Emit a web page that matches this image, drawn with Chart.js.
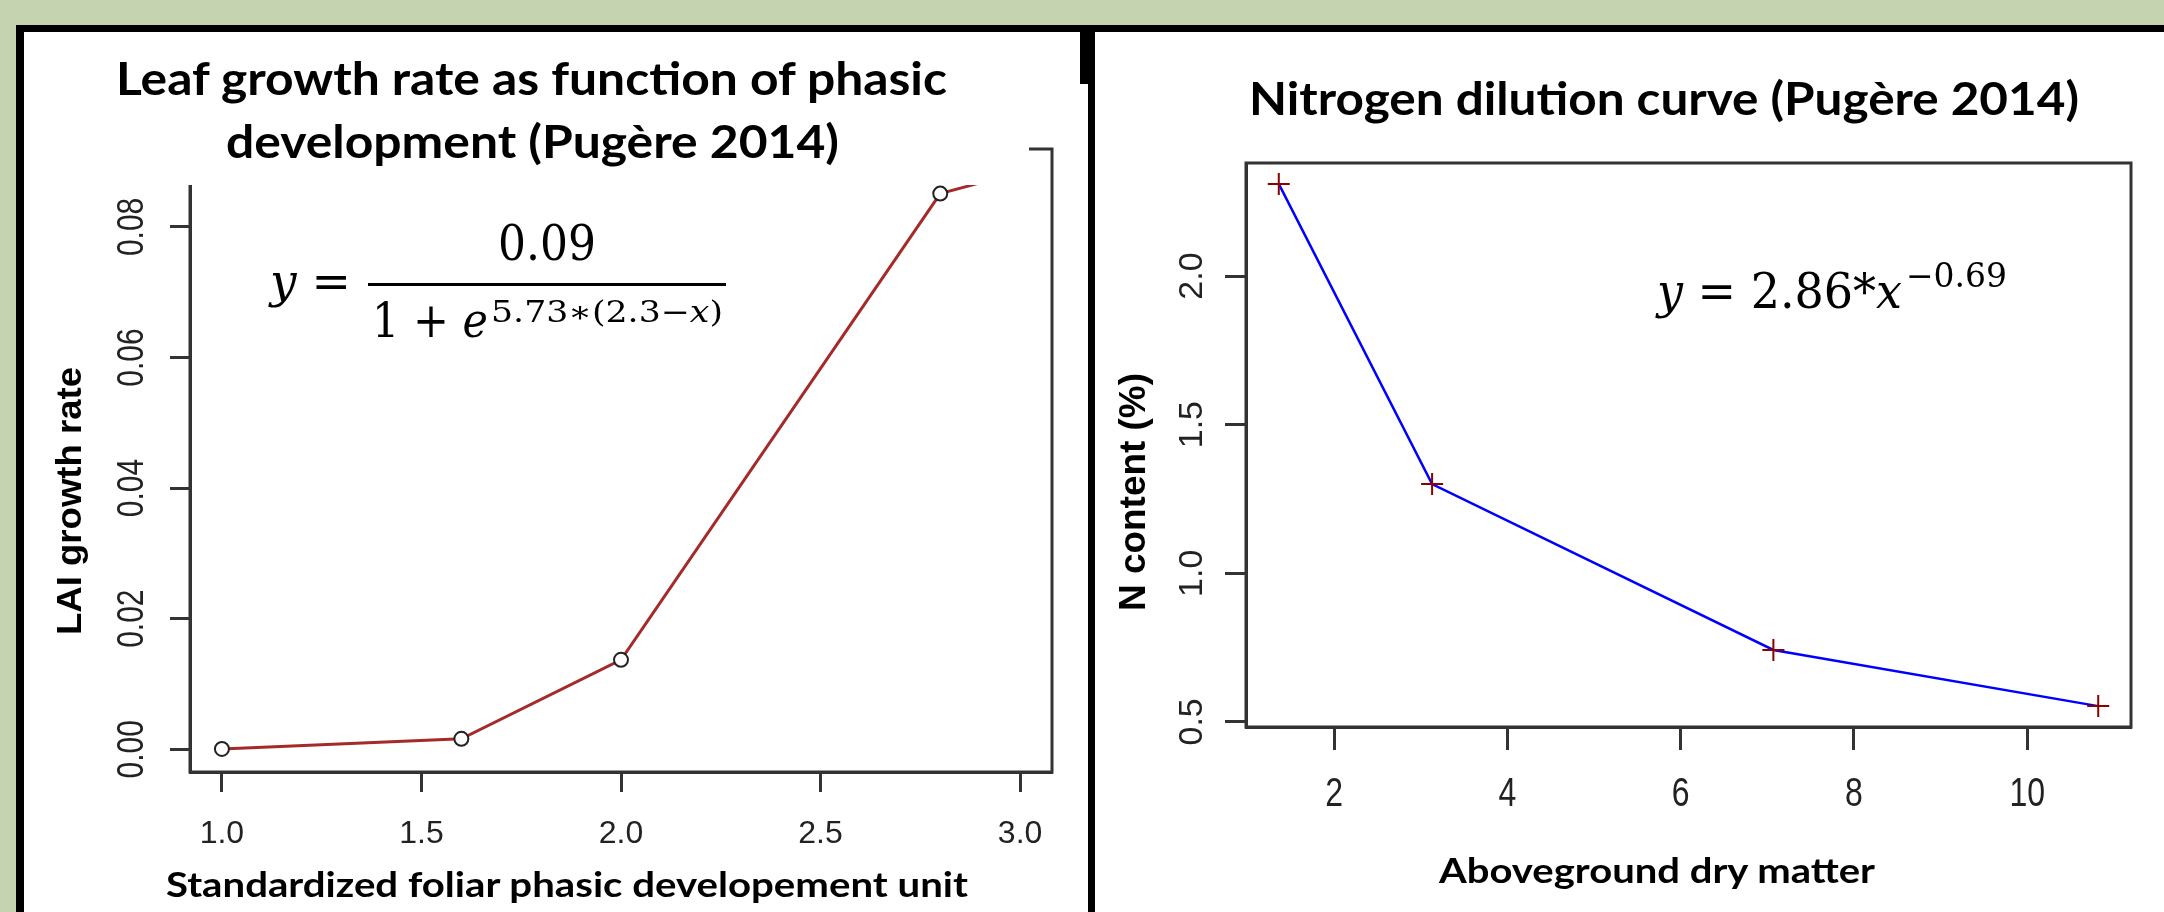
<!DOCTYPE html>
<html>
<head>
<meta charset="utf-8">
<title>Leaf growth rate and nitrogen dilution curve (Pugère 2014)</title>
<script src="https://cdn.jsdelivr.net/npm/chart.js@4.4.1/dist/chart.umd.min.js"></script>
<style>
  html, body { margin: 0; padding: 0; }
  body {
    width: 2164px;
    height: 912px;
    overflow: hidden;
    position: relative;
    background: #c6d3b0;
    font-family: "Liberation Sans", Arial, sans-serif;
  }
  .frame { position: absolute; left: 16px; top: 25px; right: 0; bottom: 0; background: #000; }
  .panel { position: absolute; top: 32px; height: 880px; background: #fff; }
  #panelLeft { left: 24px; width: 1064px; }
  #panelRight { left: 1095px; width: 1069px; }
  .panel canvas { position: absolute; left: 0; top: 0; }
  .edge { position: absolute; left: 1080px; top: 32px; width: 8px; height: 52px; background: #000; }
  #overlay { position: absolute; left: 0; top: 0; pointer-events: none; }
</style>
</head>
<body>
<div class="frame"></div>
<div class="panel" id="panelLeft"><canvas id="leafChart" width="1064" height="880"></canvas></div>
<div class="panel" id="panelRight"><canvas id="nitrogenChart" width="1069" height="880"></canvas></div>
<div class="edge"></div>

<svg id="overlay" width="2164" height="912" xmlns="http://www.w3.org/2000/svg">
  <!-- title box pasted over the top of the left plot -->
  <rect x="24" y="32" width="1005" height="153" fill="#fff"/>

  <g font-family="Lato, 'Open Sans', sans-serif" font-weight="700" fill="#000">
    <text x="116" y="95" font-size="46" textLength="831" lengthAdjust="spacingAndGlyphs">Leaf growth rate as function of phasic</text>
    <text x="226" y="158" font-size="46" textLength="613" lengthAdjust="spacingAndGlyphs">development (Pugère 2014)</text>
    <text x="1249" y="115" font-size="46" textLength="830" lengthAdjust="spacingAndGlyphs">Nitrogen dilution curve (Pugère 2014)</text>
    <text x="166" y="897" font-size="34" textLength="802" lengthAdjust="spacingAndGlyphs">Standardized foliar phasic developement unit</text>
    <text x="1439" y="883" font-size="34" textLength="436" lengthAdjust="spacingAndGlyphs">Aboveground dry matter</text>
  </g>

  <g font-family="'Liberation Sans', Arial, sans-serif" font-weight="700" fill="#000">
    <text transform="translate(81,501) rotate(-90)" text-anchor="middle" font-size="35" textLength="268" lengthAdjust="spacingAndGlyphs">LAI growth rate</text>
    <text transform="translate(1145,492) rotate(-90)" text-anchor="middle" font-size="37" textLength="238" lengthAdjust="spacingAndGlyphs">N content (%)</text>
  </g>

  <!-- fitted equations -->
  <g font-family="'DejaVu Serif', serif" fill="#000">
    <text x="270" y="297" font-size="46" textLength="81" lengthAdjust="spacingAndGlyphs"><tspan font-style="italic">y</tspan> =</text>
    <text x="498" y="260" font-size="48" textLength="98" lengthAdjust="spacingAndGlyphs">0.09</text>
    <rect x="368" y="283" width="358" height="3"/>
    <text x="372" y="337" font-size="48" textLength="116" lengthAdjust="spacingAndGlyphs">1 + <tspan font-style="italic">e</tspan></text>
    <text x="491" y="322" font-size="30" textLength="232" lengthAdjust="spacingAndGlyphs">5.73∗(2.3−<tspan font-style="italic">x</tspan>)</text>
    <text x="1657" y="308" font-size="48" textLength="245" lengthAdjust="spacingAndGlyphs"><tspan font-style="italic">y</tspan> = 2.86*<tspan font-style="italic">x</tspan></text>
    <text x="1906" y="287" font-size="33" textLength="101" lengthAdjust="spacingAndGlyphs">−0.69</text>
  </g>
</svg>

<script>
// ========== DATA ==========
// left plot: LAI growth rate vs standardized foliar phasic unit
const leafPhasic = [1.0, 1.6, 2.0, 2.8, 3.0];
const leafRate = [0.00005, 0.0016, 0.0137, 0.0851, 0.0884];
const leafXTicks = [1.0, 1.5, 2.0, 2.5, 3.0];
const leafXLabels = ["1.0", "1.5", "2.0", "2.5", "3.0"];
const leafYTicks = [0, 0.02, 0.04, 0.06, 0.08];
const leafYLabels = ["0.00", "0.02", "0.04", "0.06", "0.08"];

// right plot: N content vs aboveground dry matter
const dryMatter = [1.36, 3.13, 7.07, 10.82];
const nContent = [2.31, 1.3, 0.742, 0.553];
const dmXTicks = [2, 4, 6, 8, 10];
const dmXLabels = ["2", "4", "6", "8", "10"];
const nYTicks = [0.5, 1.0, 1.5, 2.0];
const nYLabels = ["0.5", "1.0", "1.5", "2.0"];

// ========== HELPERS ==========
// R pads the data range by 4% on each side
function rRange(values) {
  const lo = Math.min(...values);
  const hi = Math.max(...values);
  const pad = (hi - lo) * 0.04;
  return { min: lo - pad, max: hi + pad };
}

function toPoints(xs, ys) {
  return xs.map((x, i) => ({ x: x, y: ys[i] }));
}

function rAxis(range, ticks, fitSize, tickLength, horizontal) {
  return {
    type: "linear",
    min: range.min,
    max: range.max,
    afterBuildTicks: (scale) => {
      scale.ticks = ticks.map((v) => ({ value: v }));
    },
    afterFit: (scale) => {
      if (horizontal) scale.height = fitSize;
      else scale.width = fitSize;
    },
    ticks: { display: false },
    grid: {
      drawOnChartArea: false,
      drawTicks: true,
      tickLength: tickLength,
      tickWidth: 3,
      tickColor: "#333",
    },
    border: { display: true, color: "#333", width: 3 },
  };
}

// box around the plot + R style tick labels (y labels parallel to the axis)
const rAxesPlugin = {
  id: "rAxes",
  afterDraw(chart, args, opts) {
    const ctx = chart.ctx;
    const area = chart.chartArea;
    const xs = chart.scales.x;
    const ys = chart.scales.y;

    ctx.save();
    ctx.strokeStyle = "#333";
    ctx.lineWidth = 3;
    ctx.strokeRect(area.left, area.top, area.right - area.left, area.bottom - area.top);

    ctx.fillStyle = "#222";
    ctx.textAlign = "center";
    ctx.textBaseline = "alphabetic";

    ctx.font = opts.xFont;
    opts.xTicks.forEach((v, i) => {
      ctx.save();
      ctx.translate(xs.getPixelForValue(v), opts.xBaseline);
      ctx.scale(opts.xStretch, 1);
      ctx.fillText(opts.xLabels[i], 0, 0);
      ctx.restore();
    });

    ctx.font = opts.yFont;
    opts.yTicks.forEach((v, i) => {
      ctx.save();
      ctx.translate(opts.yBaseline, ys.getPixelForValue(v));
      ctx.rotate(-Math.PI / 2);
      ctx.scale(1, opts.yStretch);
      ctx.fillText(opts.yLabels[i], 0, 0);
      ctx.restore();
    });
    ctx.restore();
  },
};

// ========== LEFT CHART: LEAF GROWTH RATE ==========
function createLeafChart() {
  const ctx = document.getElementById("leafChart").getContext("2d");

  new Chart(ctx, {
    type: "line",
    data: {
      datasets: [
        {
          data: toPoints(leafPhasic, leafRate),
          borderColor: "#a52a2a",
          borderWidth: 3,
          tension: 0,
          pointStyle: "circle",
          pointRadius: 7,
          pointBorderColor: "#222",
          pointBackgroundColor: "#fff",
          pointBorderWidth: 2,
        },
      ],
    },
    options: {
      responsive: false,
      animation: false,
      devicePixelRatio: 1,
      layout: { padding: { top: 117, right: 36, left: 0, bottom: 0 } },
      scales: {
        x: rAxis(rRange(leafPhasic), leafXTicks, 140, 20, true),
        y: rAxis(rRange(leafRate), leafYTicks, 166, 20, false),
      },
      plugins: {
        legend: { display: false },
        title: { display: false },
        tooltip: { enabled: false },
        rAxes: {
          xTicks: leafXTicks,
          xLabels: leafXLabels,
          xFont: "32px 'Liberation Sans', Arial, sans-serif",
          xBaseline: 811,
          xStretch: 1,
          yTicks: leafYTicks,
          yLabels: leafYLabels,
          yFont: "30px 'Liberation Sans', Arial, sans-serif",
          yBaseline: 119,
          yStretch: 1.2,
        },
      },
    },
    plugins: [rAxesPlugin],
  });
}

// ========== RIGHT CHART: NITROGEN DILUTION ==========
function createNitrogenChart() {
  const ctx = document.getElementById("nitrogenChart").getContext("2d");

  new Chart(ctx, {
    type: "line",
    data: {
      datasets: [
        {
          data: toPoints(dryMatter, nContent),
          borderColor: "#0000ff",
          borderWidth: 2.5,
          tension: 0,
          pointStyle: "cross",
          pointRadius: 11,
          pointBorderColor: "#8b0000",
          pointBorderWidth: 2,
        },
      ],
    },
    options: {
      responsive: false,
      animation: false,
      devicePixelRatio: 1,
      layout: { padding: { top: 131, right: 33, left: 0, bottom: 0 } },
      scales: {
        x: rAxis(rRange(dryMatter), dmXTicks, 185, 23, true),
        y: rAxis(rRange(nContent), nYTicks, 151, 21, false),
      },
      plugins: {
        legend: { display: false },
        title: { display: false },
        tooltip: { enabled: false },
        rAxes: {
          xTicks: dmXTicks,
          xLabels: dmXLabels,
          xFont: "40px 'Liberation Sans', Arial, sans-serif",
          xBaseline: 774,
          xStretch: 0.8,
          yTicks: nYTicks,
          yLabels: nYLabels,
          yFont: "34px 'Liberation Sans', Arial, sans-serif",
          yBaseline: 107,
          yStretch: 1,
        },
      },
    },
    plugins: [rAxesPlugin],
  });
}

// ========== INIT ==========
document.addEventListener("DOMContentLoaded", function () {
  createLeafChart();
  createNitrogenChart();
});
</script>
</body>
</html>
